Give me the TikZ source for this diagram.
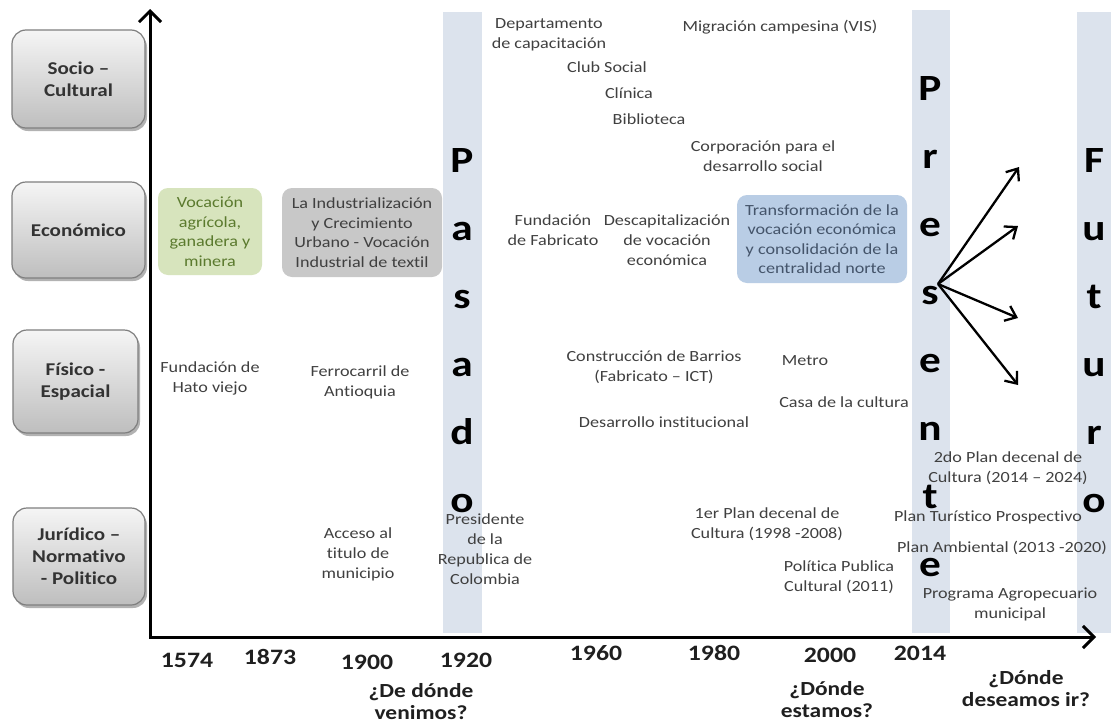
\documentclass[tikz,border=0pt]{standalone}
\usepackage{fontspec}
\setmainfont{Carlito}[FakeStretch=1.17, Ligatures={NoCommon}]
\usetikzlibrary{arrows.meta,shadows}
\definecolor{bandc}{HTML}{DCE3ED}
\definecolor{txtc}{HTML}{404040}
\definecolor{catText}{HTML}{333333}
\definecolor{catBorder}{HTML}{7F7F7F}
\definecolor{catTop}{HTML}{F5F5F5}
\definecolor{catBot}{HTML}{BEBEBE}
\definecolor{greenbox}{HTML}{D7E4BD}
\definecolor{greentxt}{HTML}{5B7A2E}
\definecolor{graybox}{HTML}{C8C8C8}
\definecolor{bluebox}{HTML}{B9CDE5}
\definecolor{bluetxt}{HTML}{44546A}
\definecolor{yrc}{HTML}{1F1F1F}
\begin{document}
\begin{tikzpicture}[x=1pt,y=-1pt,
  txt/.style={font=\fontsize{15.5}{20}\selectfont, text=txtc, align=center, inner sep=0pt},
  catbox/.style={rounded corners=14pt, draw=catBorder, line width=1.2pt, top color=catTop, bottom color=catBot,
     drop shadow={shadow xshift=2pt, shadow yshift=-3pt, opacity=0.3, fill=black},
     font=\bfseries\fontsize{18}{22}\selectfont, text=catText, align=center, inner sep=0pt},
  ebox/.style={rounded corners=10pt, align=center, inner sep=0pt, font=\fontsize{15.5}{19.5}\selectfont},
  big/.style={font=\bfseries\fontsize{37}{40}\selectfont, anchor=base, inner sep=0pt, text=black},
  yr/.style={font=\bfseries\fontsize{22}{24}\selectfont, text=yrc, inner sep=0pt},
  quest/.style={font=\bfseries\fontsize{20}{22}\selectfont, text=yrc, align=center, inner sep=0pt},
  axisline/.style={line width=3pt, line join=miter, {Straight Barb[length=11pt,width=22pt]}-{Straight Barb[length=11pt,width=22pt]}},
  futarrow/.style={line width=2.3pt, -{Straight Barb[length=10pt,width=16pt]}}
]
\useasboundingbox (0,0) rectangle (1111,723);
\fill[white] (0,0) rectangle (1111,723);

% bands
\fill[bandc] (443,12) rectangle (482,633);
\fill[bandc] (912,10) rectangle (950,633);
\fill[bandc] (1077,12) rectangle (1111,633);

% axes
\coordinate (O) at (150,637);
\coordinate (Ytop) at (150,9);
\coordinate (Xend) at (1096,637);
\draw[axisline] (Ytop) -- (O) -- (Xend);

% category boxes
\node[catbox, minimum width=133pt, minimum height=98pt] (soc) at (78.5,79) {Socio –\\Cultural};
\node[catbox, minimum width=133pt, minimum height=96pt] (eco) at (78.5,230) {Económico};
\node[catbox, minimum width=125pt, minimum height=103pt] (fis) at (75.5,381.5) {Físico -\\Espacial};
\node[catbox, minimum width=132pt, minimum height=97pt] (jur) at (79,556.5) {Jurídico –\\Normativo\\- Politico};

% economic boxes
\node[ebox, fill=greenbox, text=greentxt, minimum width=104pt, minimum height=87pt] (voc) at (210,231.5) {Vocación\\agrícola,\\ganadera y\\minera};
\node[ebox, fill=graybox, text=txtc, minimum width=160pt, minimum height=89pt] (ind) at (362,232.5) {La Industrialización\\y Crecimiento\\Urbano - Vocación\\Industrial de textil};
\node[ebox, fill=bluebox, text=bluetxt, minimum width=170pt, minimum height=88pt] (trans) at (822,239) {Transformación de la\\vocación económica\\y consolidación de la\\centralidad norte};

% big letters
\foreach \l/\y [count=\i] in {P/172,a/240,s/308,a/376,d/444,o/512}
  \node[big] (pas\i) at (462,\y) {\l};
\foreach \l/\y [count=\i] in {P/100,r/168,e/236,s/304,e/372,n/440,t/508,e/576}
  \node[big] (pre\i) at (930,\y) {\l};
\foreach \l/\y [count=\i] in {F/172,u/240,t/308,u/376,r/444,o/512}
  \node[big] (fut\i) at (1094,\y) {\l};

% texts
\node[txt] (dep) at (549,35) {Departamento\\de capacitación};
\node[txt] (club) at (607,67) {Club Social};
\node[txt] (clin) at (629,93) {Clínica};
\node[txt] (bib) at (649,119) {Biblioteca};
\node[txt] (mig) at (780,27) {Migración campesina (VIS)};
\node[txt] (corp) at (763,156) {Corporación para el\\desarrollo social};
\node[txt] (fab) at (553,230) {Fundación\\de Fabricato};
\node[txt] (desc) at (667,240) {Descapitalización\\de vocación\\económica};
\node[txt] (hato) at (210,378) {Fundación de\\Hato viejo};
\node[txt] (ferro) at (360,382) {Ferrocarril de\\Antioquia};
\node[txt] (constr) at (654,367) {Construcción de Barrios\\(Fabricato – ICT)};
\node[txt] (desinst) at (664,422) {Desarrollo institucional};
\node[txt] (metro) at (805,361) {Metro};
\node[txt] (casa) at (844,402) {Casa de la cultura};
\node[txt] (plan2) at (1008,468) {2do Plan decenal de\\Cultura (2014 – 2024)};
\node[txt] (turist) at (988,517) {Plan Turístico Prospectivo};
\node[txt] (ambi) at (1002,548) {Plan Ambiental (2013 -2020)};
\node[txt] (agro) at (1010,604) {Programa Agropecuario\\municipal};
\node[txt] (plan1) at (767,524) {1er Plan decenal de\\Cultura (1998 -2008)};
\node[txt] (polit) at (839,577) {Política Publica\\Cultural (2011)};
\node[txt] (acceso) at (358,554) {Acceso al\\titulo de\\municipio};
\node[txt] (presid) at (485,549) {Presidente\\de la\\Republica de\\Colombia};

% years
\node[yr] (y1574) at (187,660) {1574};
\node[yr] (y1873) at (270,657) {1873};
\node[yr] (y1900) at (367,662) {1900};
\node[yr] (y1920) at (466,660) {1920};
\node[yr] (y1960) at (596,653) {1960};
\node[yr] (y1980) at (714,653) {1980};
\node[yr] (y2000) at (830,655) {2000};
\node[yr] (y2014) at (920,653) {2014};

% questions
\node[quest] (q1) at (421,702) {¿De dónde\\venimos?};
\node[quest] (q2) at (827,700) {¿Dónde\\estamos?};
\node[quest] (q3) at (1026,689) {¿Dónde\\deseamos ir?};

% future arrows
\coordinate (fo) at (938,284);
\coordinate (f1) at (1019,167);
\coordinate (f2) at (1018,226);
\coordinate (f3) at (1018,318);
\coordinate (f4) at (1018,385);
\foreach \t in {f1,f2,f3,f4}
  \draw[futarrow] (fo) -- (\t);
\end{tikzpicture}
\end{document}
